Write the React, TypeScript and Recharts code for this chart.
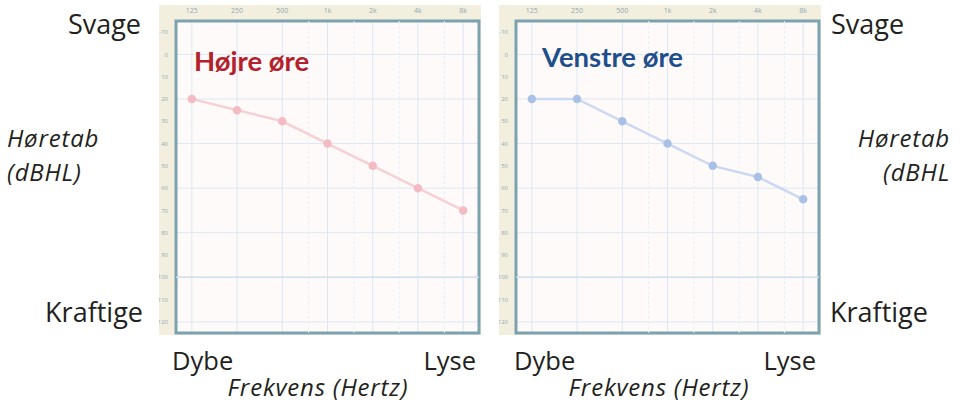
import { LineChart, Line, XAxis, YAxis, CartesianGrid, ReferenceArea, ReferenceLine } from 'recharts';

const freqLabels = ['125', '250', '500', '1k', '2k', '4k', '8k'];
const dbTicks = [-10, 0, 10, 20, 30, 40, 50, 60, 70, 80, 90, 100, 110, 120];
// half-octave lines (750, 1500, 3000, 6000 Hz) on the octave index scale
const halfOctaves = [2.585, 3.585, 4.585, 5.585];

const rightEar = [20, 25, 30, 40, 50, 60, 70];
const leftEar = [20, 20, 30, 40, 50, 55, 65];

const toData = (values: number[]) => freqLabels.map((f, i) => ({ idx: i, freq: f, db: values[i] }));

const sans = '"Open Sans", "Noto Sans", sans-serif';

const Panel = ({ values, lineColor, dotColor, left }: any) => (
  <div style={{ position: 'absolute', left, top: 5, background: '#f3efdf' }}>
    <LineChart width={322} height={330} data={toData(values)} margin={{ top: 0, right: 2, bottom: 2, left: 1 }}>
      <CartesianGrid stroke="#dbe8f3" fill="#fffafa" vertical horizontal />
      <XAxis
        type="number"
        dataKey="idx"
        orientation="top"
        domain={[-0.35, 6.35]}
        allowDataOverflow
        ticks={[0, 1, 2, 3, 4, 5, 6]}
        tickFormatter={(v: number) => freqLabels[v]}
        height={16}
        axisLine={false}
        tickLine={false}
        tick={{ fontSize: 7, fill: '#8fa9b3' }}
      />
      <YAxis
        type="number"
        reversed
        domain={[-15, 125]}
        allowDataOverflow
        ticks={dbTicks}
        width={16}
        axisLine={false}
        tickLine={false}
        tick={{ fontSize: 6, fill: '#8fa9b3' }}
      />
      {halfOctaves.map((x) => (
        <ReferenceLine key={x} x={x} stroke="#e6eff7" strokeDasharray="3 2" />
      ))}
      <ReferenceLine y={100} stroke="#cfe0ec" strokeWidth={1.5} />
      <ReferenceArea x1={-0.35} x2={6.35} y1={-15} y2={125} fill="none" stroke="#7ca3ad" strokeWidth={3} ifOverflow="visible" />
      <Line
        type="linear"
        dataKey="db"
        stroke={lineColor}
        strokeWidth={2.5}
        dot={{ r: 3, fill: dotColor, stroke: dotColor }}
        isAnimationActive={false}
      />
    </LineChart>
  </div>
);

export default function App() {
  return (
    <div style={{ position: 'absolute', left: 0, top: 0, width: 962, height: 406, background: '#fff', fontFamily: sans }}>
      <Panel values={rightEar} lineColor="#f7d0d4" dotColor="#f3bcc2" left={159} />
      <Panel values={leftEar} lineColor="#cbdaf1" dotColor="#a9c1e6" left={499} />
      <svg width={962} height={406} style={{ position: 'absolute', left: 0, top: 0, pointerEvents: 'none' }}>
        <g fontFamily={sans} fill="#231f20">
          <text x={141} y={34} fontSize={27} textAnchor="end">Svage</text>
          <text x={143} y={322} fontSize={27} textAnchor="end">Kraftige</text>
          <text x={7} y={147} fontSize={24} fontStyle="italic" letterSpacing={0.8}>Høretab</text>
          <text x={7} y={181} fontSize={24} fontStyle="italic" letterSpacing={0.8}>(dBHL)</text>

          <text x={831} y={34} fontSize={27}>Svage</text>
          <text x={830} y={322} fontSize={27}>Kraftige</text>
          <text x={950} y={147} fontSize={24} fontStyle="italic" letterSpacing={0.8} textAnchor="end">Høretab</text>
          <text x={950} y={181} fontSize={24} fontStyle="italic" letterSpacing={0.8} textAnchor="end">(dBHL</text>

          <text x={172} y={370} fontSize={25.5}>Dybe</text>
          <text x={476} y={370} fontSize={25.5} textAnchor="end">Lyse</text>
          <text x={318} y={396} fontSize={24} fontStyle="italic" letterSpacing={0.8} textAnchor="middle">Frekvens (Hertz)</text>

          <text x={514} y={370} fontSize={25.5}>Dybe</text>
          <text x={816} y={370} fontSize={25.5} textAnchor="end">Lyse</text>
          <text x={659} y={396} fontSize={24} fontStyle="italic" letterSpacing={0.8} textAnchor="middle">Frekvens (Hertz)</text>
        </g>
        <text x={194} y={71} fontSize={27.5} fontWeight="bold" fontFamily="Lato, sans-serif" fill="#b3222c">Højre øre</text>
        <text x={542} y={67} fontSize={27.5} fontWeight="bold" fontFamily="Lato, sans-serif" fill="#1f4f8b">Venstre øre</text>
      </svg>
    </div>
  );
}
